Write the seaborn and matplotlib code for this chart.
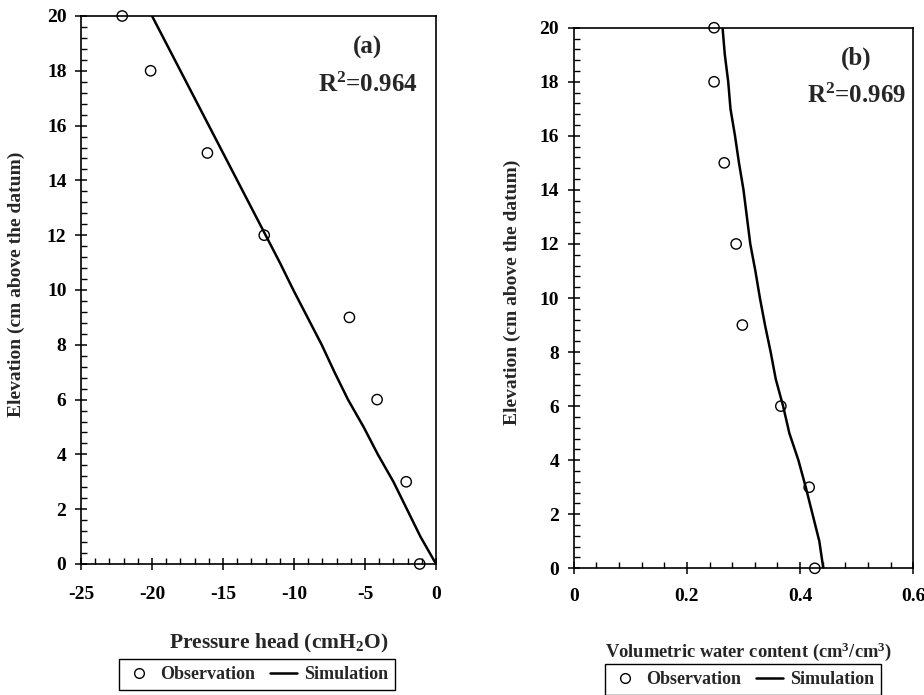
import matplotlib
matplotlib.use("Agg")
import matplotlib.pyplot as plt
from matplotlib.ticker import MultipleLocator
from matplotlib.lines import Line2D
import seaborn as sns

# Observed profile (elevation in cm above the datum)
elev_obs = [20, 18, 15, 12, 9, 6, 3, 0]
head_obs = [-22.1, -20.1, -16.1, -12.1, -6.1, -4.15, -2.1, -1.15]
theta_obs = [0.248, 0.248, 0.266, 0.287, 0.298, 0.366, 0.416, 0.426]

# Simulated profile
elev_sim = [0, 1, 2, 3, 4, 5, 6, 7, 8, 9, 10, 11, 12, 13, 14, 15, 16, 17, 18, 19, 20]
head_sim = [0.0, -1.1, -2.05, -3.0, -4.1, -5.1, -6.2, -7.15, -8.05, -9.05, -10.05,
            -11.0, -12.0, -13.0, -14.0, -15.0, -16.0, -17.0, -18.0, -19.0, -20.0]
theta_sim = [0.441, 0.434, 0.422, 0.410, 0.397, 0.381, 0.370, 0.357, 0.348, 0.338, 0.329,
             0.321, 0.312, 0.306, 0.300, 0.292, 0.285, 0.277, 0.273, 0.267, 0.263]

# Axis ticks and labels
y_ticks = [0, 2, 4, 6, 8, 10, 12, 14, 16, 18, 20]
y_ticklabels = ["0", "2", "4", "6", "8", "10", "12", "14", "16", "18", "20"]
x_ticks_a = [-25, -20, -15, -10, -5, 0]
x_ticklabels_a = ["-25", "-20", "-15", "-10", "-5", "0"]
x_ticks_b = [0, 0.2, 0.4, 0.6]
x_ticklabels_b = ["0", "0.2", "0.4", "0.6"]

panel_tags = ["(a)", "(b)"]
r2_texts = ["R$^{\\mathbf{2}}$=0.964", "R$^{\\mathbf{2}}$=0.969"]

sns.set_style("ticks")
plt.rcParams["font.family"] = ["Liberation Serif", "DejaVu Serif"]
plt.rcParams["font.weight"] = "bold"
plt.rcParams["axes.unicode_minus"] = False
plt.rcParams["mathtext.fontset"] = "custom"
plt.rcParams["mathtext.rm"] = "Liberation Serif:bold"
plt.rcParams["mathtext.bf"] = "Liberation Serif:bold"
plt.rcParams["mathtext.it"] = "Liberation Serif:bold"

fig = plt.figure(figsize=(9.24, 6.95), dpi=100)
ax_a = fig.add_axes([0.0877, 0.1885, 0.3842, 0.7885])
ax_b = fig.add_axes([0.6209, 0.1823, 0.3675, 0.7778])


def draw_panel(ax, x_obs, x_sim):
    sns.lineplot(x=x_sim, y=elev_sim, ax=ax, orient="y", sort=False, estimator=None,
                 color="black", linewidth=1.8, zorder=2)
    sns.scatterplot(x=x_obs, y=elev_obs, ax=ax, marker="o", s=55,
                    facecolor="none", edgecolor="black", linewidth=1.0,
                    clip_on=False, zorder=3)
    for side in ["left", "bottom", "top", "right"]:
        ax.spines[side].set_visible(True)
        ax.spines[side].set_linewidth(1.2)
        ax.spines[side].set_color("black")
    ax.set_ylim(0, 20)
    ax.set_yticks(y_ticks, y_ticklabels)
    ax.yaxis.set_minor_locator(MultipleLocator(0.4))
    ax.tick_params(which="major", direction="inout", length=9, width=1.1,
                   labelsize=14, colors="black")
    ax.tick_params(which="minor", direction="in", length=4, width=1.0, colors="black")
    ax.tick_params(axis="y", which="major", pad=6)


draw_panel(ax_a, head_obs, head_sim)
ax_a.set_xlim(-25, 0)
ax_a.set_xticks(x_ticks_a, x_ticklabels_a)
ax_a.xaxis.set_minor_locator(MultipleLocator(1))
ax_a.tick_params(axis="x", which="major", pad=11)

draw_panel(ax_b, theta_obs, theta_sim)
ax_b.set_xlim(0, 0.6)
ax_b.set_xticks(x_ticks_b, x_ticklabels_b)
ax_b.xaxis.set_minor_locator(MultipleLocator(0.04))
ax_b.tick_params(axis="x", which="major", pad=10)

ax_a.set_xlabel("Pressure head (cmH$_{\\mathbf{2}}$O)", fontsize=15.5, fontweight="bold")
ax_a.xaxis.set_label_coords(0.558, -0.124)
ax_b.set_xlabel("Volumetric water content (cm$^{\\mathbf{3}}$/cm$^{\\mathbf{3}}$)",
                fontsize=13.3, fontweight="bold")
ax_b.xaxis.set_label_coords(0.515, -0.133)

for ax, xc in [(ax_a, -0.158), (ax_b, -0.154)]:
    ax.set_ylabel("Elevation (cm above the datum)", fontsize=14, fontweight="bold")
    ax.yaxis.set_label_coords(xc, 0.51)

for ax, tag, r2, xf in [(ax_a, panel_tags[0], r2_texts[0], 0.808),
                        (ax_b, panel_tags[1], r2_texts[1], 0.833)]:
    ax.text(xf, 0.943, tag, transform=ax.transAxes, ha="center", va="center",
            fontsize=18, fontweight="bold")
    ax.text(xf, 0.874, r2, transform=ax.transAxes, ha="center", va="center",
            fontsize=18, fontweight="bold")

handles = [
    Line2D([], [], marker="o", linestyle="none", markerfacecolor="none",
           markeredgecolor="black", markersize=7, markeredgewidth=1.0),
    Line2D([], [], color="black", linewidth=1.8),
]
labels = ["Observation", "Simulation"]

for ax, cx, top in [(ax_a, 0.278, 0.0518), (ax_b, 0.804, 0.0446)]:
    leg = ax.legend(handles, labels, loc="upper center", bbox_to_anchor=(cx, top),
                    bbox_transform=fig.transFigure, ncol=2, frameon=True,
                    fancybox=False, edgecolor="black", framealpha=1,
                    borderaxespad=0, handlelength=1.5, handletextpad=0.4,
                    columnspacing=0.8, borderpad=0.4, prop={"size": 13, "weight": "bold"})
    leg.get_frame().set_linewidth(1.0)

fig.savefig("out.png", dpi=100)
